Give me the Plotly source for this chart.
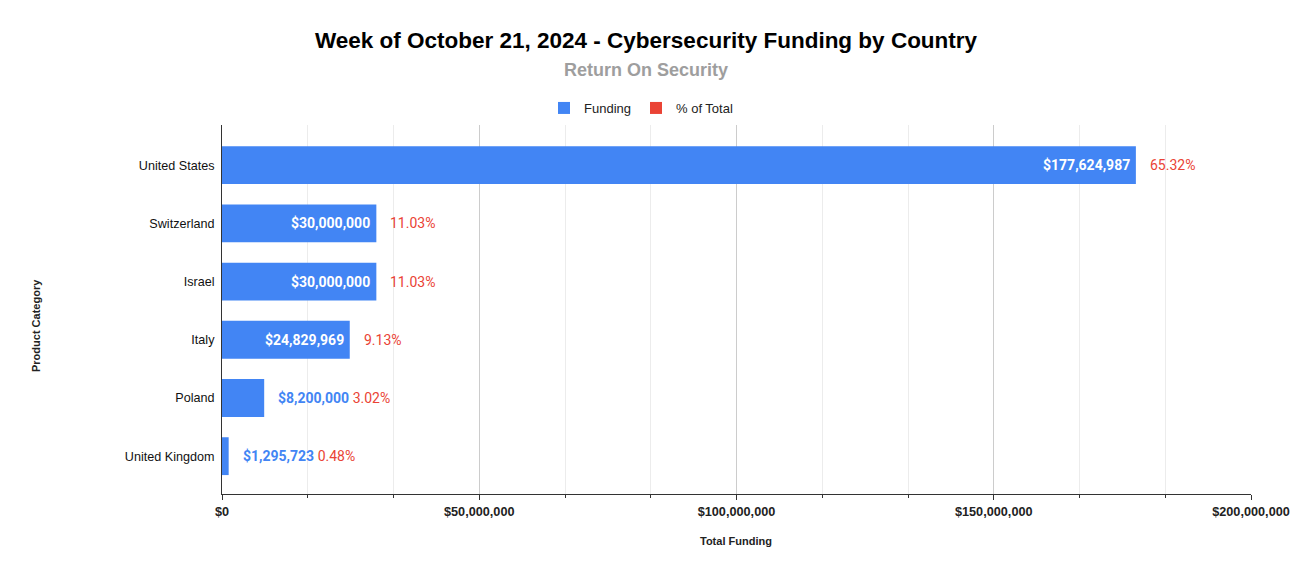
import plotly.graph_objects as go

countries = ["United States", "Switzerland", "Israel", "Italy", "Poland", "United Kingdom"]
funding = [177624987, 30000000, 30000000, 24829969, 8200000, 1295723]
pct_total = [65.32, 11.03, 11.03, 9.13, 3.02, 0.48]
x_ticks = [0, 50000000, 100000000, 150000000, 200000000]

BLUE = "#4285F4"
RED = "#EA4335"
LABEL_FONT = "Roboto"
AXIS_FONT = "Liberation Sans, Arial"

PLOT_L, PLOT_R, PLOT_T, PLOT_B = 222, 1251, 125, 494  # plot area in window pixels
W, H = 1292, 575


def px_x(px):  # window x pixel -> paper x
    return (px - PLOT_L) / (PLOT_R - PLOT_L)


def px_y(py):  # window y pixel -> paper y
    return (PLOT_B - py) / (PLOT_B - PLOT_T)


fig = go.Figure()
fig.add_trace(go.Bar(
    name="Funding", y=countries, x=funding, orientation="h",
    marker=dict(color=BLUE, line=dict(width=0)), width=0.65,
    hovertemplate="%{y}: $%{x:,}<extra></extra>",
))
# % series lives on the same axis, so its bars are practically invisible (as in the source chart)
fig.add_trace(go.Bar(
    name="% of Total", y=countries, x=pct_total, orientation="h",
    marker=dict(color=RED, line=dict(width=0)), width=0.65,
    hovertemplate="%{y}: %{x:.2f}%<extra></extra>",
))

annotations = []
for c, v, p in zip(countries, funding, pct_total):
    money = f"${v:,}"
    pct = f"{p:.2f}%"
    if v >= 20000000:
        # label fits inside the bar
        annotations.append(dict(x=v, y=c, xref="x", yref="y", text=f"<b>{money}</b>",
                                showarrow=False, xanchor="right", xshift=-4,
                                font=dict(family=LABEL_FONT, size=14, color="white")))
        annotations.append(dict(x=v, y=c, xref="x", yref="y", text=pct,
                                showarrow=False, xanchor="left", xshift=12,
                                font=dict(family=LABEL_FONT, size=14, color=RED)))
    else:
        annotations.append(dict(x=v, y=c, xref="x", yref="y",
                                text=f"<b><span style='color:{BLUE}'>{money}</span></b> <span style='color:{RED}'>{pct}</span>",
                                showarrow=False, xanchor="left", xshift=12,
                                font=dict(family=LABEL_FONT, size=14, color=BLUE)))

annotations.append(dict(text="<b>Return On Security</b>", xref="paper", yref="paper",
                        x=px_x(646), y=px_y(70), showarrow=False,
                        xanchor="center", yanchor="middle",
                        font=dict(family=AXIS_FONT, size=18, color="#9e9e9e")))
annotations.append(dict(text="<b>Total Funding</b>", xref="paper", yref="paper",
                        x=px_x(736), y=px_y(541), showarrow=False,
                        xanchor="center", yanchor="middle",
                        font=dict(family=AXIS_FONT, size=11, color="#222")))
annotations.append(dict(text="<b>Product Category</b>", xref="paper", yref="paper",
                        x=px_x(36), y=px_y(326), showarrow=False, textangle=-90,
                        xanchor="center", yanchor="middle",
                        font=dict(family=AXIS_FONT, size=11, color="#222")))

fig.update_layout(
    width=W, height=H,
    margin=dict(l=PLOT_L, r=W - PLOT_R, t=PLOT_T, b=H - PLOT_B),
    paper_bgcolor="white", plot_bgcolor="white",
    barmode="overlay",
    title=dict(text="<b>Week of October 21, 2024 - Cybersecurity Funding by Country</b>",
               x=646 / W, xref="container", xanchor="center",
               y=1 - 40 / H, yref="container", yanchor="middle",
               font=dict(family=AXIS_FONT, size=22.5, color="#000")),
    legend=dict(orientation="h", xref="paper", x=px_x(641), xanchor="center",
                yref="paper", y=px_y(108), yanchor="middle",
                font=dict(family=AXIS_FONT, size=13, color="#222"),
                itemwidth=30, traceorder="normal"),
    annotations=annotations,
    showlegend=True,
)
fig.update_xaxes(
    range=[0, 200000000], tickvals=x_ticks,
    ticktext=[f"<b>${t:,}</b>" for t in x_ticks],
    tickfont=dict(family=AXIS_FONT, size=12.7, color="#222"),
    showgrid=True, gridcolor="#cccccc", gridwidth=1,
    showline=True, linecolor="#333", linewidth=1,
    ticks="outside", ticklen=5, tickcolor="#333", ticklabelstandoff=1,
    minor=dict(dtick=50000000 / 3, tick0=0, showgrid=True, gridcolor="#ececec",
               ticks="outside", ticklen=3, tickcolor="#333"),
    zeroline=False, fixedrange=True, automargin=False,
)
fig.update_yaxes(
    categoryorder="array", categoryarray=countries,
    range=[5.65, -0.69],
    tickfont=dict(family=AXIS_FONT, size=12.6, color="#111"),
    showline=True, linecolor="#333", linewidth=1,
    ticks="", ticklabelstandoff=4, showgrid=False, fixedrange=True, automargin=False,
)

# drop the default 8px body margin so the 1292x575 figure fills the window exactly
fig.write_html("out.html", config={"displayModeBar": False},
               post_script="document.body.style.margin='0';")
